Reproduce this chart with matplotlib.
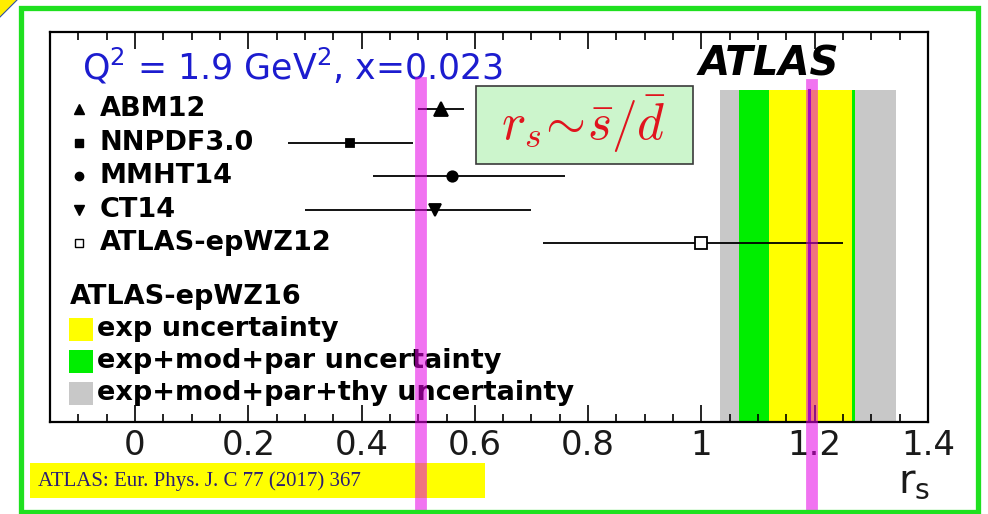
import numpy as np
import matplotlib
matplotlib.use("Agg")
import matplotlib.pyplot as plt
from matplotlib.patches import Rectangle, Polygon
from matplotlib.lines import Line2D
from matplotlib.transforms import blended_transform_factory
from matplotlib.ticker import FixedLocator, MultipleLocator

# r_s predictions of the PDF sets at Q^2 = 1.9 GeV^2, x = 0.023
pdf_names = ["ABM12", "NNPDF3.0", "MMHT14", "CT14", "ATLAS-epWZ12"]
pdf_markers = ["^", "s", "o", "v", "s"]
rs_central = [0.54, 0.38, 0.56, 0.53, 1.00]
rs_err_lo = [0.04, 0.11, 0.14, 0.23, 0.28]
rs_err_hi = [0.04, 0.11, 0.20, 0.17, 0.25]

# ATLAS-epWZ16 result with its three uncertainty bands
epwz16_central = 1.19
band_labels = ["exp uncertainty", "exp+mod+par uncertainty",
               "exp+mod+par+thy uncertainty"]
band_colors = ["#ffff00", "#00ee00", "#c8c8c8"]
band_lo = [1.12, 1.066, 1.033]
band_hi = [1.265, 1.271, 1.343]

xtick_vals = [0, 0.2, 0.4, 0.6, 0.8, 1.0, 1.2, 1.4]
xtick_labels = ["0", "0.2", "0.4", "0.6", "0.8", "1", "1.2", "1.4"]
highlight_x = [0.505, 1.195]

W, H = 988, 514

def fx(px):
    return px / W

def fy(py):
    return (H - py) / H

fig = plt.figure(figsize=(W / 100, H / 100), dpi=100)
fig.patch.set_facecolor("white")

ax = fig.add_axes([fx(50), fy(422), fx(878), 390 / H])
ax.set_xlim(-0.15, 1.40)
ax.set_ylim(9.36, -2.32)
band_top = -0.59

# uncertainty bands, widest first
for lo, hi, col in zip(band_lo[::-1], band_hi[::-1], band_colors[::-1]):
    ax.fill_betweenx([band_top, 9.36], lo, hi, color=col, lw=0, zorder=1)
ax.plot([epwz16_central, epwz16_central], [band_top, 9.36],
        color="#5a1a8a", lw=2.2, zorder=2)

# PDF predictions with error bars
msizes = [9.5, 6, 7.5, 8.5, 9]
for i, (name, mk) in enumerate(zip(pdf_names, pdf_markers)):
    open_mk = name == "ATLAS-epWZ12"
    ax.errorbar([rs_central[i]], [i],
                xerr=[[rs_err_lo[i]], [rs_err_hi[i]]],
                fmt=mk, ms=msizes[i], color="black", ecolor="black",
                elinewidth=1.3, capsize=0,
                mfc="white" if open_mk else "black", mec="black",
                mew=1.3, zorder=4)
    # legend entry
    ax.plot([-0.099], [i], marker=mk, ms=7 if mk in "^v" else 6,
            color="black", mfc="white" if open_mk else "black",
            mec="black", mew=1.0, ls="none", zorder=4)
    ax.text(-0.062, i, name, fontsize=19.5, fontweight="bold",
            va="center", ha="left", zorder=5)

ax.text(-0.115, 5.62, "ATLAS-epWZ16", fontsize=19.5, fontweight="bold",
        va="center", ha="left", zorder=5)
for k, (lab, col) in enumerate(zip(band_labels, band_colors)):
    yk = 6.58 + 0.96 * k
    ax.add_patch(Rectangle((-0.116, yk - 0.34), 0.042, 0.68,
                           facecolor=col, lw=0, zorder=4))
    ax.text(-0.067, yk, lab, fontsize=19.5, fontweight="bold",
            va="center", ha="left", zorder=5)

# axis styling
for sp in ax.spines.values():
    sp.set_linewidth(1.6)
ax.xaxis.set_major_locator(FixedLocator(xtick_vals))
ax.set_xticklabels(xtick_labels)
ax.xaxis.set_minor_locator(MultipleLocator(0.05))
ax.tick_params(axis="x", which="both", direction="in", top=True,
               bottom=True, width=1.2)
ax.tick_params(axis="x", which="major", length=12, labelsize=24.5,
               pad=5, labelcolor="#1a1a1a")
ax.tick_params(axis="x", which="minor", length=5.5)
ax.tick_params(axis="y", left=False, right=False, labelleft=False)

# header texts
fig.text(fx(82), fy(80), r"Q$^{\mathregular{2}}$ = 1.9 GeV$^{\mathregular{2}}$, x=0.023",
         color="#1c1ccf", fontsize=25, va="baseline", ha="left")
fig.text(fx(699), fy(76), "ATLAS", fontsize=29, fontweight="bold",
         fontstyle="italic", va="baseline", ha="left")
fig.text(fx(898), fy(492), r"r$_{\mathregular{s}}$", fontsize=29,
         va="baseline", ha="left", color="#1a1a1a")

# formula box
fig.patches.append(Rectangle((fx(476), fy(164)), fx(217), 78 / H,
                             transform=fig.transFigure, facecolor="#ccf5cc",
                             edgecolor="#3a3a3a", lw=1.2, zorder=2))
fig.text(fx(583), fy(124), r"$r_s\!\sim\!\bar{s}/\bar{d}$", color="#e0141e",
         fontsize=37, ha="center", va="center", math_fontfamily="cm", zorder=3)

# reference box
fig.patches.append(Rectangle((fx(30), fy(498)), fx(455), 35 / H,
                             transform=fig.transFigure, facecolor="#ffff00",
                             lw=0, zorder=2))
fig.text(fx(38), fy(481), "ATLAS: Eur. Phys. J. C 77 (2017) 367",
         family="Liberation Serif", fontsize=15, color="#2b1d73",
         va="center", ha="left", zorder=3)

# magenta guide lines running down to the bottom edge
trans = blended_transform_factory(ax.transData, fig.transFigure)
for xv, ytop in zip(highlight_x, [83, 85]):
    fig.lines.append(Line2D([xv, xv], [fy(ytop), 0.0], transform=trans,
                            color="#e600e6", alpha=0.55, lw=8.5, zorder=6))

# outer green frame and corner mark
fig.patches.append(Rectangle((fx(20.5), fy(512)), fx(957.5), (512 - 7.5) / H,
                             transform=fig.transFigure, fill=False,
                             edgecolor="#1fe01f", lw=3.8, zorder=7))
fig.patches.append(Polygon([(0, 1), (fx(17), 1), (0, fy(17))],
                           transform=fig.transFigure, facecolor="#ffee00",
                           edgecolor="none", zorder=7))
fig.lines.append(Line2D([0, fx(17)], [fy(17), 1], transform=fig.transFigure,
                        color="#3050a0", lw=0.8, zorder=8))

fig.savefig("out.png", dpi=100)
